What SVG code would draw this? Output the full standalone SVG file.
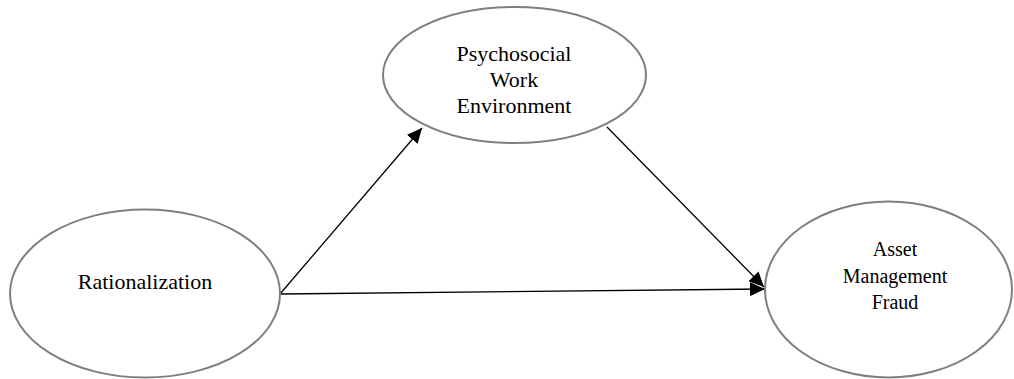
<svg xmlns="http://www.w3.org/2000/svg" width="1014" height="379" viewBox="0 0 1014 379">
<style>
.node ellipse{fill:#fff;stroke:#7f7f7f;stroke-width:2}
.lbl{font-family:"Liberation Serif","Times New Roman",serif;fill:#000;text-anchor:middle}
.edge{stroke:#000;stroke-width:1.3;fill:none}
</style>
<defs>
<marker id="ah" markerUnits="userSpaceOnUse" markerWidth="16" markerHeight="14" refX="15" refY="7" orient="auto">
<path d="M0,0 L15,7 L0,14 Z" fill="#000"/>
</marker>
</defs>
<rect width="1014" height="379" fill="#fff"/>
<g id="connectors">
<line class="edge" x1="280" y1="294" x2="422" y2="128" marker-end="url(#ah)"/>
<line class="edge" x1="607" y1="127" x2="764" y2="287" marker-end="url(#ah)"/>
<line class="edge" x1="281" y1="294" x2="765" y2="289" marker-end="url(#ah)"/>
</g>
<g id="psychosocial" class="node">
<ellipse cx="514.5" cy="75" rx="131.5" ry="68"/>
<text class="lbl" x="514" y="61" font-size="22">Psychosocial</text>
<text class="lbl" x="514" y="87" font-size="22">Work</text>
<text class="lbl" x="514" y="113" font-size="22">Environment</text>
</g>
<g id="rationalization" class="node">
<ellipse cx="145" cy="293.5" rx="135" ry="84"/>
<text class="lbl" x="145" y="289" font-size="22">Rationalization</text>
</g>
<g id="asset" class="node">
<ellipse cx="888.5" cy="289.5" rx="123.5" ry="88"/>
<text class="lbl" x="895" y="256" font-size="20">Asset</text>
<text class="lbl" x="895" y="283" font-size="20">Management</text>
<text class="lbl" x="895" y="309" font-size="20">Fraud</text>
</g>
</svg>
